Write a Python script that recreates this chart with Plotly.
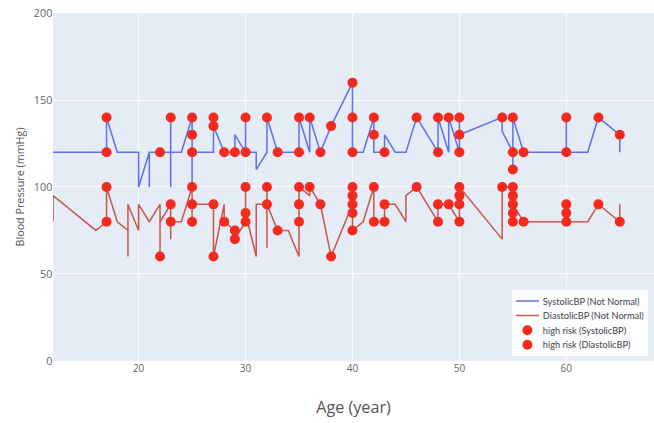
import plotly.graph_objects as go

# Systolic line (age, value) in data order
sys_age = [12, 17, 17, 18, 20, 20, 21, 21, 21, 22, 23, 23, 23, 23, 24, 25, 25, 25, 25,
           27, 27, 27, 28, 29, 29, 30, 30, 30, 31, 31, 32, 32, 33, 35, 35, 36, 36, 37, 38,
           40, 40, 40, 41, 42, 42, 42, 43, 43, 44, 45, 46, 48, 48, 49, 49, 50, 50, 50,
           54, 54, 55, 55, 55, 56, 60, 60, 60, 62, 63, 65, 65]
sys_val = [120, 120, 140, 120, 120, 100, 120, 100, 120, 120, 120, 140, 100, 120, 120, 140, 130, 100, 120,
           120, 140, 135, 120, 120, 130, 120, 140, 120, 120, 110, 120, 140, 120, 120, 140, 120, 140, 120, 135,
           160, 140, 120, 120, 140, 130, 120, 120, 130, 120, 120, 140, 120, 140, 120, 140, 120, 140, 130,
           140, 132, 120, 110, 140, 120, 120, 140, 120, 120, 140, 130, 120]

# Diastolic line (age, value) in data order
dia_age = [12, 12, 16, 17, 17, 18, 19, 19, 19, 20, 20, 21, 22, 22, 22, 23, 23, 23, 24, 25, 25, 25,
           27, 27, 28, 28, 29, 29, 30, 30, 30, 31, 31, 32, 32, 32, 32, 33, 34, 35, 35, 35, 35,
           36, 36, 37, 38, 40, 40, 40, 40, 40, 41, 42, 42, 43, 43, 44, 45, 45, 46, 48, 48, 49,
           50, 50, 50, 50, 54, 54, 55, 55, 55, 55, 55, 56, 60, 60, 60, 60, 62, 63, 65, 65]
dia_val = [80, 95, 75, 80, 100, 80, 75, 60, 90, 75, 90, 80, 90, 60, 80, 90, 70, 80, 80, 100, 80, 90,
           90, 60, 90, 80, 75, 70, 80, 100, 85, 60, 90, 90, 100, 65, 90, 75, 75, 60, 80, 90, 100,
           95, 100, 90, 60, 90, 100, 95, 85, 75, 80, 100, 80, 80, 90, 90, 80, 95, 100, 80, 90, 90,
           80, 90, 95, 100, 70, 100, 100, 95, 85, 80, 90, 80, 80, 85, 90, 80, 80, 90, 80, 90]

# High-risk points
hr_sys_age = [17, 17, 22, 23, 25, 25, 25, 27, 27, 28, 29, 30, 30, 32, 33, 35, 35, 36, 37, 38,
              40, 40, 40, 42, 42, 43, 46, 48, 48, 49, 50, 50, 50, 54, 55, 55, 55, 56, 60, 60, 63, 65]
hr_sys_val = [140, 120, 120, 140, 140, 130, 120, 140, 135, 120, 120, 140, 120, 140, 120, 140, 120, 140, 120, 135,
              160, 140, 120, 140, 130, 120, 140, 140, 120, 140, 140, 130, 120, 140, 140, 120, 110, 120, 140, 120, 140, 130]
hr_dia_age = [17, 17, 22, 23, 23, 25, 25, 25, 27, 27, 28, 29, 29, 30, 30, 30, 32, 32, 33, 35, 35, 35,
              36, 37, 38, 40, 40, 40, 40, 40, 42, 42, 43, 43, 46, 48, 48, 49, 50, 50, 50, 50,
              54, 55, 55, 55, 55, 55, 56, 60, 60, 60, 63, 65]
hr_dia_val = [100, 80, 60, 90, 80, 100, 90, 80, 90, 60, 80, 75, 70, 100, 85, 80, 100, 90, 75, 100, 90, 80,
              100, 90, 60, 100, 95, 90, 85, 75, 100, 80, 90, 80, 100, 90, 80, 90, 100, 95, 90, 80,
              100, 100, 95, 90, 85, 80, 80, 90, 85, 80, 90, 80]

x_ticks = [20, 30, 40, 50, 60]
y_ticks = [0, 50, 100, 150, 200]

fig = go.Figure()
fig.add_trace(go.Scatter(x=sys_age, y=sys_val, mode="lines", name="SystolicBP (Not Normal)",
                         line=dict(color="#6272ea", width=2)))
fig.add_trace(go.Scatter(x=dia_age, y=dia_val, mode="lines", name="DiastolicBP (Not Normal)",
                         line=dict(color="#c85a50", width=2)))
fig.add_trace(go.Scatter(x=hr_sys_age, y=hr_sys_val, mode="markers", name="high risk (SystolicBP)",
                         marker=dict(color="#f42a1e", size=13)))
fig.add_trace(go.Scatter(x=hr_dia_age, y=hr_dia_val, mode="markers", name="high risk (DiastolicBP)",
                         marker=dict(color="#f42a1e", size=13)))

# figure drawn at 850x550 and displayed scaled down to 654x423
fig.update_layout(
    width=850, height=550,
    margin=dict(l=69, r=0, t=17, b=81, autoexpand=False),
    template="plotly",
    font=dict(family="Open Sans, sans-serif", size=14, color="#555"),
    legend=dict(x=0.7637, xanchor="left", y=0.014, yanchor="bottom",
                bgcolor="rgba(255,255,255,0.92)", font=dict(family="Lato, sans-serif", size=12, color="#444"),
                tracegroupgap=0, itemwidth=30),
    xaxis=dict(range=[12, 68.2], tickvals=x_ticks, showline=False, zeroline=False, automargin=False,
               title=dict(text="Age (year)", font=dict(size=21, color="#555"), standoff=36),
               tickfont=dict(size=13, color="#666")),
    yaxis=dict(range=[0, 200], tickvals=y_ticks, zeroline=False, automargin=False,
               title=dict(text="Blood Pressure (mmHg)", font=dict(size=14, color="#555"), standoff=8),
               tickfont=dict(size=14, color="#666")),
)

post = (
    "document.documentElement.style.overflow='hidden';"
    "document.body.style.margin='0px';document.body.style.overflow='hidden';"
    "var gd=document.getElementById('{plot_id}');"
    "gd.style.transformOrigin='0 0';gd.style.transform='scale(0.76941)';"
)
fig.write_html("out.html", post_script=post, config={"displayModeBar": False})
